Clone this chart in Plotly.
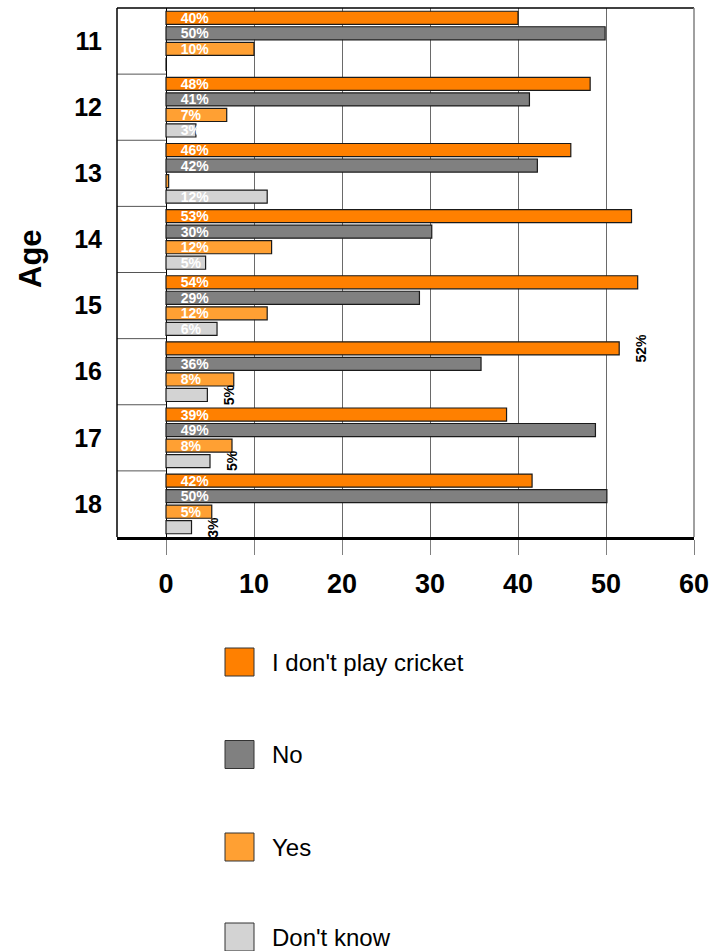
import plotly.graph_objects as go

# ---------------- data ----------------
ages = ["11", "12", "13", "14", "15", "16", "17", "18"]
series_names = ["I don't play cricket", "No", "Yes", "Don't know"]
series_colors = ["#FF8000", "#808080", "#FFA033", "#D3D3D3"]

dont_play = [40.0, 48.2, 46.0, 52.9, 53.6, 51.5, 38.7, 41.6]
no = [49.9, 41.3, 42.2, 30.2, 28.8, 35.8, 48.8, 50.1]
yes = [10.0, 6.9, 0.3, 12.0, 11.5, 7.7, 7.5, 5.2]
dont_know = [0.0, 3.4, 11.5, 4.5, 5.8, 4.7, 5.0, 2.9]

labels_dont_play = ["40%", "48%", "46%", "53%", "54%", "52%", "39%", "42%"]
labels_no = ["50%", "41%", "42%", "30%", "29%", "36%", "49%", "50%"]
labels_yes = ["10%", "7%", "", "12%", "12%", "8%", "8%", "5%"]
labels_dont_know = ["", "3%", "12%", "5%", "6%", "5%", "5%", "3%"]

# indices whose label is drawn rotated, outside the bar end
rotated_dont_play = [5]
rotated_no = []
rotated_yes = []
rotated_dont_know = [5, 6, 7]

x_ticks = [0, 10, 20, 30, 40, 50, 60]

# ---------------- layout constants ----------------
W, H = 711, 951
PL, PR, PT, PB = 117, 694, 8, 537           # plot area (px)
X0_PX = 166                                 # pixel of value 0
X_MAX = 60
px_per_unit = (PR - X0_PX) / X_MAX
x_min = -(X0_PX - PL) / px_per_unit

BARGAP = 0.06
BARGROUPGAP = 0.16
n_series = len(series_names)
slot = (1 - BARGAP) / n_series


def px_to_paper_x(px):
    return (px - PL) / (PR - PL)


def px_to_paper_y(py):
    return (PB - py) / (PB - PT)


values = [dont_play, no, yes, dont_know]
labels = [labels_dont_play, labels_no, labels_yes, labels_dont_know]
rotated = [rotated_dont_play, rotated_no, rotated_yes, rotated_dont_know]
ypos = list(range(len(ages)))

fig = go.Figure()
pad = "\u00a0\u00a0\u00a0"
for j in range(n_series):
    txt = [("" if (i in rotated[j] or lab == "") else pad + lab)
           for i, lab in enumerate(labels[j])]
    fig.add_trace(go.Bar(
        y=ypos, x=values[j], orientation="h", name=series_names[j],
        marker=dict(color=series_colors[j], line=dict(color="#1a1a1a", width=1.2)),
        text=txt, textposition="inside", insidetextanchor="start",
        textangle=0, constraintext="none",
        insidetextfont=dict(family="Liberation Sans, Arial", size=14,
                            color="white", weight="bold"),
        showlegend=False, hoverinfo="x+name",
    ))

annotations = []
# rotated outside labels
for j in range(n_series):
    center = -(1 - BARGAP) / 2 + slot * (j + 0.5)
    for i in rotated[j]:
        annotations.append(dict(
            x=values[j][i], y=i + center, xref="x", yref="y",
            text=labels[j][i], textangle=-90, showarrow=False,
            xanchor="center", yanchor="middle", xshift=22,
            font=dict(family="Liberation Sans, Arial", size=14,
                      color="black", weight="bold"),
        ))

# axis title
annotations.append(dict(
    x=px_to_paper_x(30), y=px_to_paper_y(259), xref="paper", yref="paper",
    text="Age", textangle=-90, showarrow=False, xanchor="center", yanchor="middle",
    font=dict(family="Liberation Sans, Arial", size=31, color="black", weight="bold"),
))

shapes = []
# custom legend
legend_y = [662, 754.5, 847, 937]
for j in range(n_series):
    cy = legend_y[j]
    shapes.append(dict(
        type="rect", xref="paper", yref="paper",
        x0=px_to_paper_x(225), x1=px_to_paper_x(254),
        y0=px_to_paper_y(cy - 14), y1=px_to_paper_y(cy + 14),
        fillcolor=series_colors[j], line=dict(color="#333333", width=1),
    ))
    annotations.append(dict(
        x=px_to_paper_x(270), y=px_to_paper_y(cy), xref="paper", yref="paper",
        text=series_names[j], showarrow=False, xanchor="left", yanchor="middle",
        font=dict(family="Liberation Sans, Arial", size=24, color="black"),
    ))

# side-wall separators at category boundaries
for k in range(len(ages) - 1):
    shapes.append(dict(
        type="line", xref="x", yref="y", x0=x_min, x1=0, y0=k + 0.5, y1=k + 0.5,
        line=dict(color="#555555", width=1),
    ))
# outer frame
shapes.append(dict(type="line", xref="paper", yref="paper", x0=0, x1=1, y0=1, y1=1,
                   line=dict(color="black", width=1.5)))
shapes.append(dict(type="line", xref="paper", yref="paper", x0=0, x1=0, y0=0, y1=1,
                   line=dict(color="black", width=1.5)))
shapes.append(dict(type="line", xref="paper", yref="paper", x0=1, x1=1, y0=0, y1=1,
                   line=dict(color="#808080", width=1.5)))

fig.update_layout(
    width=W, height=H,
    margin=dict(l=PL, r=W - PR, t=PT, b=H - PB, pad=0, autoexpand=False),
    paper_bgcolor="white", plot_bgcolor="white",
    barmode="group", bargap=BARGAP, bargroupgap=BARGROUPGAP,
    showlegend=False,
    annotations=annotations, shapes=shapes,
    font=dict(family="Liberation Sans, Arial", color="black"),
)
fig.update_xaxes(
    automargin=False,
    range=[x_min, X_MAX], tickmode="array", tickvals=x_ticks,
    ticktext=[str(t) for t in x_ticks],
    showgrid=True, gridcolor="#6a6a6a", gridwidth=1,
    zeroline=True, zerolinecolor="black", zerolinewidth=1,
    showline=True, linecolor="black", linewidth=2.5,
    ticks="outside", ticklen=15, tickcolor="#808080", tickwidth=1,
    tickfont=dict(family="Liberation Sans, Arial", size=27, color="black", weight="bold"),
    ticklabelstandoff=6,
)
fig.update_yaxes(
    automargin=False,
    range=[len(ages) - 0.5, -0.5], tickmode="array", tickvals=ypos, ticktext=ages,
    showgrid=False, zeroline=False, showline=False, ticks="",
    tickfont=dict(family="Liberation Sans, Arial", size=25, color="black", weight="bold"),
    ticklabelstandoff=14,
)

fig.write_html(
    "out.html",
    config={"displayModeBar": False},
    post_script=("document.body.style.margin='0';"
                 "document.documentElement.style.overflow='hidden';"
                 "document.body.style.overflow='hidden';"),
)
